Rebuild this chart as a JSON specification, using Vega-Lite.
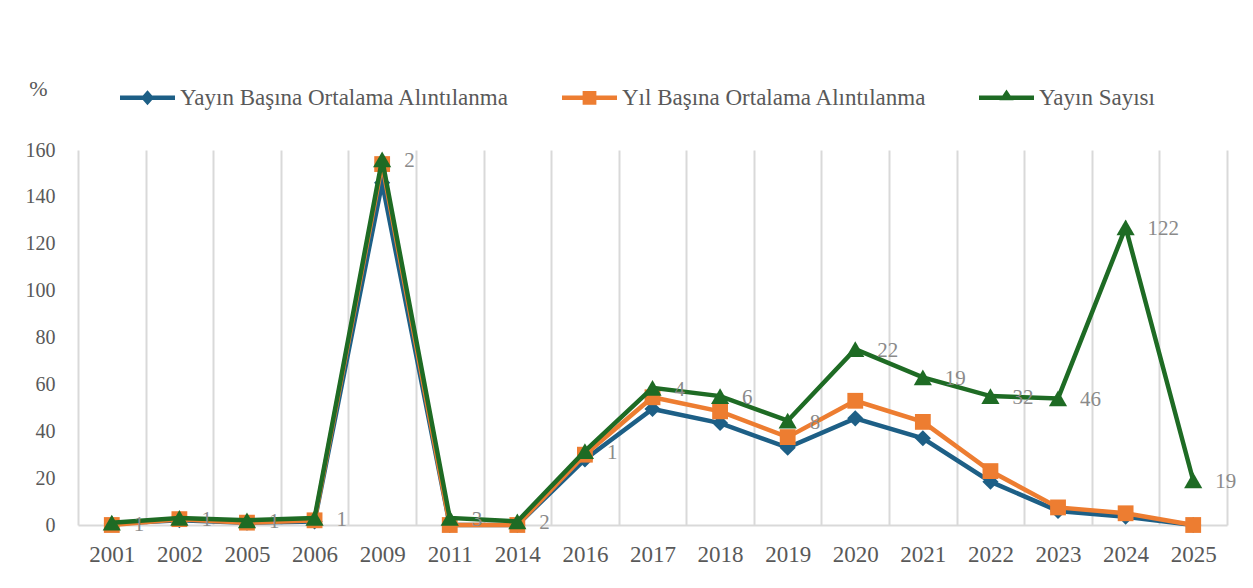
{
  "$schema": "https://vega.github.io/schema/vega-lite/v6.json",
  "width": 1149,
  "height": 375,
  "autosize": "none",
  "padding": {"left": 78, "top": 150, "right": 26, "bottom": 63},
  "background": "white",
  "config": {"view": {"stroke": null}, "font": "Liberation Serif"},
  "data": {"values": [
    {"year": "2001", "series": "Yayın Başına Ortalama Alıntılanma", "value": 0.5},
    {"year": "2002", "series": "Yayın Başına Ortalama Alıntılanma", "value": 2},
    {"year": "2005", "series": "Yayın Başına Ortalama Alıntılanma", "value": 1},
    {"year": "2006", "series": "Yayın Başına Ortalama Alıntılanma", "value": 1.5},
    {"year": "2009", "series": "Yayın Başına Ortalama Alıntılanma", "value": 146},
    {"year": "2011", "series": "Yayın Başına Ortalama Alıntılanma", "value": 0},
    {"year": "2014", "series": "Yayın Başına Ortalama Alıntılanma", "value": 0},
    {"year": "2016", "series": "Yayın Başına Ortalama Alıntılanma", "value": 28},
    {"year": "2017", "series": "Yayın Başına Ortalama Alıntılanma", "value": 49.5},
    {"year": "2018", "series": "Yayın Başına Ortalama Alıntılanma", "value": 43.5},
    {"year": "2019", "series": "Yayın Başına Ortalama Alıntılanma", "value": 33},
    {"year": "2020", "series": "Yayın Başına Ortalama Alıntılanma", "value": 45.5},
    {"year": "2021", "series": "Yayın Başına Ortalama Alıntılanma", "value": 37},
    {"year": "2022", "series": "Yayın Başına Ortalama Alıntılanma", "value": 18.5},
    {"year": "2023", "series": "Yayın Başına Ortalama Alıntılanma", "value": 6},
    {"year": "2024", "series": "Yayın Başına Ortalama Alıntılanma", "value": 3.5},
    {"year": "2025", "series": "Yayın Başına Ortalama Alıntılanma", "value": 0},
    {"year": "2001", "series": "Yıl Başına Ortalama Alıntılanma", "value": 0},
    {"year": "2002", "series": "Yıl Başına Ortalama Alıntılanma", "value": 2.5},
    {"year": "2005", "series": "Yıl Başına Ortalama Alıntılanma", "value": 1},
    {"year": "2006", "series": "Yıl Başına Ortalama Alıntılanma", "value": 2},
    {"year": "2009", "series": "Yıl Başına Ortalama Alıntılanma", "value": 154},
    {"year": "2011", "series": "Yıl Başına Ortalama Alıntılanma", "value": 0},
    {"year": "2014", "series": "Yıl Başına Ortalama Alıntılanma", "value": 0},
    {"year": "2016", "series": "Yıl Başına Ortalama Alıntılanma", "value": 30},
    {"year": "2017", "series": "Yıl Başına Ortalama Alıntılanma", "value": 54.5},
    {"year": "2018", "series": "Yıl Başına Ortalama Alıntılanma", "value": 48.5},
    {"year": "2019", "series": "Yıl Başına Ortalama Alıntılanma", "value": 37.5},
    {"year": "2020", "series": "Yıl Başına Ortalama Alıntılanma", "value": 53},
    {"year": "2021", "series": "Yıl Başına Ortalama Alıntılanma", "value": 44},
    {"year": "2022", "series": "Yıl Başına Ortalama Alıntılanma", "value": 23},
    {"year": "2023", "series": "Yıl Başına Ortalama Alıntılanma", "value": 7.5},
    {"year": "2024", "series": "Yıl Başına Ortalama Alıntılanma", "value": 5},
    {"year": "2025", "series": "Yıl Başına Ortalama Alıntılanma", "value": 0},
    {"year": "2001", "series": "Yayın Sayısı", "value": 1, "n": 1},
    {"year": "2002", "series": "Yayın Sayısı", "value": 3, "n": 1},
    {"year": "2005", "series": "Yayın Sayısı", "value": 2, "n": 1},
    {"year": "2006", "series": "Yayın Sayısı", "value": 3, "n": 1},
    {"year": "2009", "series": "Yayın Sayısı", "value": 156, "n": 2},
    {"year": "2011", "series": "Yayın Sayısı", "value": 3, "n": 3},
    {"year": "2014", "series": "Yayın Sayısı", "value": 1.5, "n": 2},
    {"year": "2016", "series": "Yayın Sayısı", "value": 31.5, "n": 1},
    {"year": "2017", "series": "Yayın Sayısı", "value": 58.5, "n": 4},
    {"year": "2018", "series": "Yayın Sayısı", "value": 55, "n": 6},
    {"year": "2019", "series": "Yayın Sayısı", "value": 44.5, "n": 8},
    {"year": "2020", "series": "Yayın Sayısı", "value": 75, "n": 22},
    {"year": "2021", "series": "Yayın Sayısı", "value": 63, "n": 19},
    {"year": "2022", "series": "Yayın Sayısı", "value": 55, "n": 32},
    {"year": "2023", "series": "Yayın Sayısı", "value": 54, "n": 46},
    {"year": "2024", "series": "Yayın Sayısı", "value": 127, "n": 122},
    {"year": "2025", "series": "Yayın Sayısı", "value": 19, "n": 19}
  ]},
  "encoding": {
    "x": {
      "field": "year", "type": "ordinal", "bandPosition": 0.5,
      "scale": {"type": "band", "paddingInner": 0, "paddingOuter": 0},
      "axis": {
        "title": null, "labelAngle": 0, "ticks": false, "tickBand": "extent",
        "grid": true, "gridColor": "#D9D9D9", "gridWidth": 2,
        "domainColor": "#D9D9D9", "domainWidth": 2,
        "labelFont": "Liberation Serif", "labelFontSize": 23, "labelColor": "#595959",
        "labelPadding": 18
      }
    },
    "y": {
      "field": "value", "type": "quantitative",
      "scale": {"domain": [0, 160], "nice": false},
      "axis": {
        "title": "%", "titleAngle": 0, "titleX": -40, "titleY": -62,
        "titleAlign": "center", "titleBaseline": "middle",
        "titleFont": "Liberation Serif", "titleFontSize": 22, "titleFontWeight": "normal", "titleColor": "#595959",
        "values": [0, 20, 40, 60, 80, 100, 120, 140, 160],
        "grid": false, "domain": false, "ticks": false,
        "labelFont": "Liberation Serif", "labelFontSize": 20, "labelColor": "#595959", "labelPadding": 23
      }
    },
    "color": {
      "field": "series", "type": "nominal",
      "scale": {
        "domain": ["Yayın Başına Ortalama Alıntılanma", "Yıl Başına Ortalama Alıntılanma", "Yayın Sayısı"],
        "range": ["#1D5F86", "#ED7D31", "#1E6B24"]
      },
      "legend": {
        "title": null, "orient": "none", "direction": "horizontal",
        "legendX": 42, "legendY": -80,
        "symbolSize": 3025, "labelOffset": 5, "columnPadding": 52, "labelLimit": 0,
        "labelFont": "Liberation Serif", "labelFontSize": 23, "labelColor": "#595959",
        "encode": {
          "symbols": {
            "update": {
              "shape": {"signal": "datum.value === 'Yayın Başına Ortalama Alıntılanma' ? 'M-1,-0.08H1V0.08H-1Z M0,-0.27L0.24,0L0,0.27L-0.24,0Z' : datum.value === 'Yıl Başına Ortalama Alıntılanma' ? 'M-1,-0.08H1V0.08H-1Z M-0.25,-0.25H0.25V0.25H-0.25Z' : 'M-1,-0.08H1V0.08H-1Z M0,-0.3L0.26,0.09H-0.26Z'"},
              "fill": {"signal": "scale('color', datum.value)"},
              "strokeWidth": {"value": 0},
              "opacity": {"value": 1}
            }
          }
        }
      }
    }
  },
  "layer": [
    {
      "transform": [{"filter": "datum.series === 'Yayın Başına Ortalama Alıntılanma'"}],
      "mark": {"type": "line", "strokeWidth": 4.5, "point": {"filled": true, "shape": "diamond", "size": 260, "opacity": 1}}
    },
    {
      "transform": [{"filter": "datum.series === 'Yıl Başına Ortalama Alıntılanma'"}],
      "mark": {"type": "line", "strokeWidth": 4.5, "point": {"filled": true, "shape": "square", "size": 250, "opacity": 1}}
    },
    {
      "transform": [{"filter": "datum.series === 'Yayın Sayısı'"}],
      "mark": {"type": "line", "strokeWidth": 4.5, "point": {"filled": true, "shape": "triangle-up", "size": 330, "opacity": 1}}
    },
    {
      "transform": [{"filter": "datum.series === 'Yayın Sayısı'"}],
      "mark": {"type": "text", "align": "left", "baseline": "middle", "dx": 22, "dy": 2, "font": "Liberation Serif", "fontSize": 21, "color": "#8A8A8A"},
      "encoding": {"text": {"field": "n", "type": "quantitative"}, "color": {"value": "#8A8A8A"}}
    }
  ]
}
